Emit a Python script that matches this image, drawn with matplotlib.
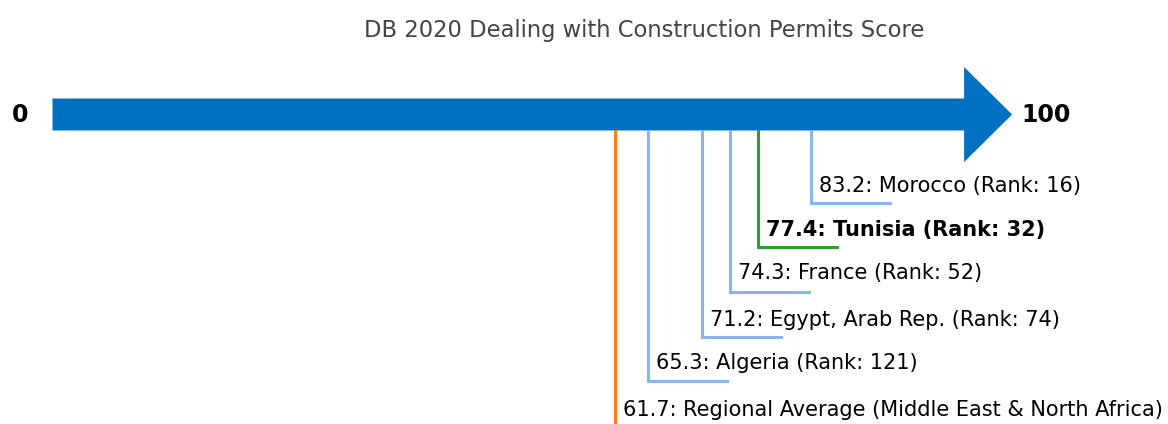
import numpy as np
import matplotlib
matplotlib.use('Agg')
import matplotlib.pyplot as plt

# data
title = 'DB 2020 Dealing with Construction Permits Score'
names = ['Morocco', 'Tunisia', 'France', 'Egypt, Arab Rep.', 'Algeria']
scores = [83.2, 77.4, 74.3, 71.2, 65.3]
ranks = [16, 32, 52, 74, 121]
region_name = 'Regional Average (Middle East & North Africa)'
region_score = 61.7
highlight = 'Tunisia'

# layout (y in pixel rows from top)
px_per_unit = 9.116
x_left = -52.5 / px_per_unit
x_right = (1168 - 52.5) / px_per_unit
arrow_y = 114.5
arrow_w = 32
head_w = 95
head_len = 48 / px_per_unit
line_top = arrow_y + arrow_w / 2
label_y = [186, 230, 273, 320, 363]
bottom_y = [203, 247, 292, 337, 381]
hook = 8.7

fig = plt.figure(figsize=(11.68, 4.24), dpi=100)
ax = fig.add_axes([0, 0, 1, 1])
ax.set_xlim(x_left, x_right)
ax.set_ylim(424, 0)
ax.axis('off')

ax.arrow(0, arrow_y, 100 + head_len, 0, width=arrow_w, head_width=head_w,
         head_length=head_len, length_includes_head=True,
         color='#0070c0', lw=0)
ax.text(-3.5, arrow_y + 1, '0', ha='center', va='center', fontsize=17, fontweight='bold')
ax.text(100 + head_len + 1, arrow_y + 1, '100', ha='left', va='center', fontsize=17, fontweight='bold')

ax.text(64.95, 31, title, ha='center', va='center', fontsize=16.3, color='#444444')

# regional average
ax.plot([region_score, region_score], [line_top, 430], color='#ff7f0e', lw=2.2, clip_on=False)
ax.text(region_score + 0.9, 410, '%.1f: %s' % (region_score, region_name),
        ha='left', va='center', fontsize=15)

for n, s, r, ly, by in zip(names, scores, ranks, label_y, bottom_y):
    c = '#2ca02c' if n == highlight else '#8ab4ef'
    ax.plot([s, s, s + hook], [line_top, by, by], color=c, lw=2.2, solid_joinstyle='miter')
    ax.text(s + 0.9, ly, '%.1f: %s (Rank: %d)' % (s, n, r), ha='left', va='center',
            fontsize=15, fontweight='bold' if n == highlight else 'normal')

fig.savefig('out.png', dpi=100)
